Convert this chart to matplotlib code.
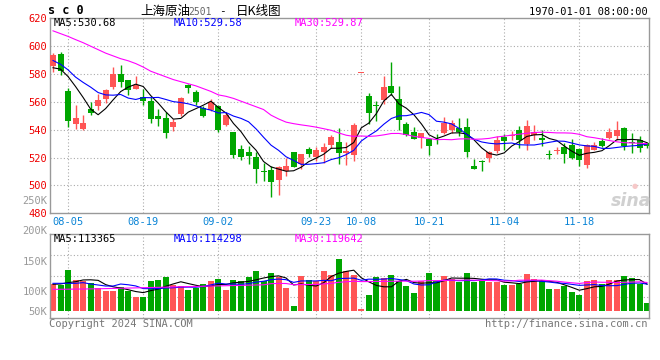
import matplotlib
matplotlib.use('Agg')
import matplotlib.pyplot as plt
import numpy as np
import pandas as pd

plt.rcParams['font.family'] = ['DejaVu Sans Mono', 'Noto Sans CJK SC']

# daily candles, 2024-08-01 .. 2024-11-29 (index = trading day)
opens = [586, 594.5, 568, 543.8, 540.7, 555, 556.7, 562.2, 571, 579.7,
         575.4, 569.6, 563.4, 560.8, 550, 548.6, 541.9, 551, 571.8, 567.2,
         555.7, 554, 557.2, 543.5, 538.5, 526.2, 524.2, 520.4, 510.3, 511.2,
         504.1, 510.7, 524.2, 515.6, 526.3, 520.4, 523.7, 529.3, 531.5, 523,
         521.5, 580.6, 564.4, 557.8, 561.5, 571.5, 562.2, 544.2, 538.3, 534,
         533, 533.6, 538, 539.5, 541.2, 542, 514.1, 517.8, 520, 524.4,
         534.7, 535.2, 540, 530.1, 536.4, 534.4, 522.7, 524.4, 527.3, 529.2,
         526.1, 515, 525.6, 532.1, 534.2, 535.2, 541.4, 531, 532.8, 530.4]
closes = [594, 582, 546.5, 548.6, 545, 552.2, 561.5, 568.7, 580, 574.6,
          568.2, 572, 560.3, 547.4, 547.4, 537.3, 545.7, 562.7, 570.3, 559.6,
          550, 559.8, 540, 550.7, 522, 520.7, 521.3, 511.9, 510, 502.6,
          512.9, 513.6, 513.6, 522.7, 522.5, 525.6, 527.8, 534.8, 523, 525,
          543.5, 580.6, 551.7, 557, 570.8, 566.7, 546.7, 535.9, 533.5, 537.8,
          528, 533, 545, 544.5, 538.5, 523.7, 511.7, 516.6, 524.2, 532.8,
          531.6, 536.1, 532.5, 542.8, 538.5, 532.8, 521.8, 525.6, 522.7, 520,
          518.2, 529, 529, 528.5, 538.5, 539.5, 528.5, 530.3, 526.6, 528.5]
highs = [595, 595.5, 570, 558, 550.7, 560, 565.5, 569.6, 584.7, 586.6,
         576, 578.7, 569, 563.4, 555, 552.6, 547.6, 563.4, 573, 568.2,
         557, 562.2, 558, 552, 538.5, 529.2, 528.5, 523.9, 516, 513.9,
         513.7, 519.5, 524.2, 522.7, 527.5, 527.8, 530.3, 536.3, 541.5, 531,
         544.5, 580.6, 566.7, 560.3, 578.7, 588.3, 571.5, 545.7, 542.1, 537.8,
         533, 536.8, 549, 547.1, 548.6, 548.6, 519.2, 518, 525, 535.2,
         536.6, 539, 542.8, 547.1, 543.3, 539.5, 525.6, 527.5, 530.4, 533.3,
         526.8, 530, 531.4, 533.8, 541.4, 546.5, 541.9, 537.5, 535.2, 531.5]
lows = [581.5, 579, 542, 540.7, 540, 550.7, 554.3, 559.3, 569, 570.8,
        564.7, 569.6, 557.4, 544.5, 543, 534.4, 538.8, 549.8, 566.3, 557.4,
        549.3, 553.3, 538.3, 542.8, 519.6, 518.4, 515.6, 502, 502.9, 492,
        493.1, 506.6, 512.9, 511.8, 520.3, 517.2, 516, 526.7, 515.6, 515,
        517.9, 580.6, 544.2, 546, 558.4, 565, 540, 535.2, 533.3, 526.6,
        522, 529.9, 537, 537.6, 535.2, 520.1, 511.7, 510.2, 516.6, 523.2,
        525.6, 532.8, 526.6, 525.6, 532.8, 528.5, 519.2, 522.7, 516.3, 519.2,
        514.1, 512.6, 525.6, 527.3, 533.3, 532.8, 525.2, 523.2, 523.7, 527]
volumes = [111700, 110300, 135000, 118300, 116700, 113000, 105800, 99500, 100000, 106000,
           99500, 90500, 90500, 116700, 118300, 123300, 110300, 108300, 101700, 104200,
           111700, 116700, 120000, 101700, 118300, 116700, 123300, 133300, 116700, 130000,
           122800, 105700, 75000, 125800, 118300, 116700, 133300, 126700, 153300, 133300,
           126700, 70000, 93300, 123300, 121700, 126700, 116700, 108300, 96700, 116700,
           130000, 116700, 125000, 120000, 115000, 130000, 115000, 118300, 115000, 115000,
           110000, 110000, 111700, 128900, 120000, 116700, 103300, 103300, 108300, 98300,
           93300, 116700, 118300, 111700, 118300, 118300, 125000, 121700, 111700, 80000]

# MA values before a full window exists
ma5_head = [584.5, 583.5, 578.2, 571]
ma10_head = [589.7, 587, 583, 577.8, 574, 570.6, 566.7, 565, 564.8]
ma30_head = [611, 609, 607, 604.7, 602.5, 600, 597.5, 595, 593, 591,
             589.5, 587.5, 585, 582, 580, 578, 576, 574.5, 573, 571.5,
             569.5, 567.5, 565, 564, 562.5, 560.5, 558.5, 556.5, 554.5]
vma5_head = [111200, 111700, 113900, 115500]
vma10_head = [112800, 112800, 112800, 112800, 113900, 111700, 110000, 108300, 108300]
vma30_head = [102800, 102900, 103000, 103200, 103300, 103500, 103700, 104000, 104300, 104600,
              104900, 105200, 105500, 105800, 106100, 106400, 106700, 107000, 107300, 107600,
              107900, 108200, 108500, 108800, 109100, 109400, 109700, 110000, 110300]

price_labels = ['MA5:530.68', 'MA10:529.58', 'MA30:529.87']
vol_labels = ['MA5:113365', 'MA10:114298', 'MA30:119642']

date_ticks = ['08-05', '08-19', '09-02', '09-23', '10-08', '10-21', '11-04', '11-18']
date_idx = [2, 12, 22, 35, 41, 50, 60, 70]
price_ticks = [480, 500, 520, 540, 560, 580, 600, 620]
vol_ticks = [50000, 100000, 150000, 200000, 250000]
vol_tick_text = ['50K', '100K', '150K', '200K', '250K']

RED = '#ff5555'
GREEN = '#00a600'
GRID = '#aaaaaa'
FRAME = '#999999'
GRAY = '#999999'
BLUE_TXT = '#0a84d6'
FS = 7.5


def moving_avg(vals, n, head):
    s = pd.Series(vals, dtype=float).rolling(n).mean()
    s.iloc[:n - 1] = head
    return s.values


W, H = 660, 360
fig = plt.figure(figsize=(W / 100, H / 100), dpi=100)


def px_axes(x0, y0, x1, y1):
    return fig.add_axes([x0 / W, 1 - y1 / H, (x1 - x0) / W, (y1 - y0) / H])


def ftext(x, y, s, **kw):
    kw.setdefault('fontsize', FS)
    kw.setdefault('va', 'center')
    fig.text(x / W, 1 - y / H, s, **kw)


o = np.array(opens)
c = np.array(closes)
x = np.arange(len(c))
colors = np.where(c >= o, RED, GREEN)

ax = px_axes(50, 18.3, 649, 213.3)
axv = px_axes(50, 234, 649, 318)

# price panel
for v in price_ticks[1:-1]:
    ax.axhline(v, color=GRID, lw=0.8, ls=(0, (1, 2)), zorder=0)
for i in date_idx:
    ax.axvline(i, color=GRID, lw=0.8, ls=(0, (1, 2)), zorder=0)

ax.vlines(x, lows, highs, colors=colors, lw=1, zorder=2)
body = np.maximum(np.abs(c - o), 0.6)
ax.bar(x, body, bottom=np.minimum(o, c), width=0.8, color=colors, lw=0, zorder=3)

ax.plot(x, moving_avg(closes, 5, ma5_head), color='black', lw=0.8, zorder=4)
ax.plot(x, moving_avg(closes, 10, ma10_head), color='#0000ff', lw=0.8, zorder=4)
ax.plot(x, moving_avg(closes, 30, ma30_head), color='#ff00ff', lw=0.8, zorder=4)

ax.set_xlim(-0.4, 79.26)
ax.set_ylim(480, 620)
ax.set_yticks(price_ticks)
ax.set_yticklabels([str(v) for v in price_ticks], color='#ee0000', fontsize=FS)
ax.set_xticks(date_idx)
ax.set_xticklabels(date_ticks, color=BLUE_TXT, fontsize=FS)
ax.tick_params(length=0, pad=2)
ax.tick_params(axis='x', pad=3)

# volume panel
vol_lo, vol_hi = 55000, 195000
vol_base = 66700
for v in np.linspace(vol_lo, vol_hi, 5)[1:-1]:
    axv.axhline(v, color=GRID, lw=0.8, ls=(0, (1, 2)), zorder=0)
for i in date_idx:
    axv.axvline(i, color=GRID, lw=0.8, ls=(0, (1, 2)), zorder=0)

vol = np.array(volumes)
axv.bar(x, vol - vol_base, bottom=vol_base, width=0.8, color=colors, lw=0, zorder=2)
axv.plot(x, moving_avg(volumes, 5, vma5_head), color='black', lw=0.8, zorder=4)
axv.plot(x, moving_avg(volumes, 10, vma10_head), color='#0000ff', lw=0.8, zorder=4)
axv.plot(x, moving_avg(volumes, 30, vma30_head), color='#ff00ff', lw=0.8, zorder=4)

axv.set_xlim(-0.4, 79.26)
axv.set_ylim(vol_lo, vol_hi)
axv.set_xticks([])

# volume scale: labels inside the range as ticks (lowest kept inside the panel),
# the ones above the panel as plain text
in_range = [(max(v, vol_base), s) for v, s in zip(vol_ticks, vol_tick_text) if v < vol_hi]
axv.set_yticks([p for p, s in in_range])
axv.set_yticklabels([s for p, s in in_range], color=GRAY, fontsize=FS)
axv.tick_params(length=0, pad=2)
for v, s in zip(vol_ticks, vol_tick_text):
    if v >= vol_hi:
        axv.text(-0.004, v, s, transform=axv.get_yaxis_transform(), ha='right',
                 va='center', color=GRAY, fontsize=FS, clip_on=False)

for a in (ax, axv):
    for sp in a.spines.values():
        sp.set_color(FRAME)
        sp.set_linewidth(1)

# header and labels
ftext(48, 11, 's c 0', fontsize=8.5, fontweight='bold')
ftext(140, 11, '上海原油', family='Noto Sans CJK SC', fontsize=9)
ftext(188, 12, '2501', color='#666666', fontsize=7)
ftext(219, 11, '-', fontsize=8)
ftext(236, 11, '日K线图', family='Noto Sans CJK SC', fontsize=9)
ftext(648, 12, '1970-01-01 08:00:00', ha='right')

for xp, s, col in zip([54, 174, 295], price_labels, ['black', '#0000ff', '#ff00ff']):
    ftext(xp, 23.5, s, color=col)
for xp, s, col in zip([54, 174, 295], vol_labels, ['black', '#0000ff', '#ff00ff']):
    ftext(xp, 239.5, s, color=col)

# watermark
ftext(631, 201, 'sina', ha='center', fontsize=12.5, family='DejaVu Sans',
      fontstyle='italic', fontweight='bold', color='#d0d0d0')
ftext(635, 186, '●', ha='center', fontsize=5, family='DejaVu Sans', color='#f6c8c8')

ftext(49, 324, 'Copyright 2024 SINA.COM', color='#777777')
ftext(648, 324, 'http://finance.sina.com.cn', ha='right', color='#777777')

fig.savefig('out.png', dpi=100)
